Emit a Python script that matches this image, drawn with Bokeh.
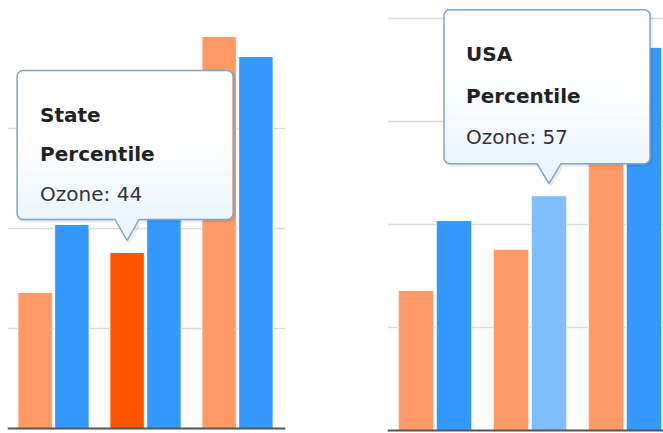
import math
from bokeh.plotting import figure
from bokeh.models import Range1d, Span, Label, Grid, FixedTicker
from bokeh.layouts import row
from bokeh.embed import file_html
from bokeh.resources import INLINE

# ---- data ----
categories = ["PM 2.5", "Ozone", "Diesel PM"]
state_pct = [34, 44, 98]
usa_pct = [51, 57, 93]
left_grid_ticks = [25, 50, 75]
right_grid_ticks = [25, 50, 75, 100]
indicator = "Ozone"

ORANGE = "#FF9966"
ORANGE_HI = "#FF5500"
BLUE = "#3399FF"
BLUE_HI = "#80BFFF"
FONT = "DejaVu Sans"


def rounded_shape(L, T, R, B, r, hw, n=6):
    pts = []

    def arc(cx, cy, a0, a1):
        for k in range(n + 1):
            a = a0 + (a1 - a0) * k / n
            pts.append((cx + r * math.cos(a), cy + r * math.sin(a)))

    arc(L + r, T + r, math.pi, 1.5 * math.pi)
    arc(R - r, T + r, 1.5 * math.pi, 2 * math.pi)
    arc(R - r, B - r, 0.0, 0.5 * math.pi)
    pts.append((hw, B))
    pts.append((0.0, 0.0))
    pts.append((-hw, B))
    arc(L + r, B - r, 0.5 * math.pi, math.pi)
    return pts


def x_extent(L, R, B, r, y):
    inset = 0.0
    if y > B - r:
        d = min(y - (B - r), r)
        inset = r - math.sqrt(max(r * r - d * d, 0.0))
    return L + inset, R - inset


def draw_tooltip(p, tx, ty, sx, sy, L, T, R, B, hw, lines, text_dx, baselines):
    r = 6

    def conv(pts):
        return [tx + dx / sx for dx, _ in pts], [ty - dy / sy for _, dy in pts]

    shape = rounded_shape(L, T, R, B, r, hw)
    # shadow
    sh = [(x + 1.5, y + 1.5) for x, y in shape]
    xs, ys = conv(sh)
    p.patch(xs, ys, fill_color=None, line_color="black", line_alpha=0.08, line_width=3)
    # base fill
    xs, ys = conv(shape)
    p.patch(xs, ys, fill_color="white", line_color=None)
    # gradient strips in lower part of the box
    c0 = (255, 255, 255)
    c1 = (236, 245, 254)
    y_start = T + 0.45 * (B - T)
    nstrip = 14
    for i in range(nstrip):
        ya = y_start + (B - y_start) * i / nstrip
        yb = y_start + (B - y_start) * (i + 1) / nstrip + 0.6
        yb = min(yb, B)
        t = (i + 0.5) / nstrip
        col = "#%02x%02x%02x" % tuple(int(round(c0[k] + (c1[k] - c0[k]) * t)) for k in range(3))
        left, right = [], []
        for k in range(5):
            yy = ya + (yb - ya) * k / 4
            a, b = x_extent(L, R, B, r, yy)
            left.append((a, yy))
            right.append((b, yy))
        poly = left + right[::-1]
        xs, ys = conv(poly)
        p.patch(xs, ys, fill_color=col, line_color=None)
    # pointer fill
    xs, ys = conv([(hw, B - 0.5), (0, 0), (-hw, B - 0.5)])
    cend = "#%02x%02x%02x" % c1
    p.patch(xs, ys, fill_color=cend, line_color=None)
    # outline
    xs, ys = conv(shape)
    p.patch(xs, ys, fill_color=None, line_color="#7FA5CC", line_width=1.5)
    # text
    for (txt, bold), bdy in zip(lines, baselines):
        p.add_layout(Label(x=tx + text_dx / sx, y=ty - bdy / sy, text=txt,
                           text_font=FONT, text_font_size="20px",
                           text_font_style="bold" if bold else "normal",
                           text_color="#222222" if bold else "#333333",
                           text_baseline="alphabetic", text_align="left"))


def make_panel(width, b_left, b_right, xr, yr, ticks, hi_series):
    p = figure(width=width, height=433, output_backend="svg", toolbar_location=None,
               x_range=Range1d(*xr), y_range=Range1d(*yr),
               x_axis_location=None, y_axis_location=None,
               min_border_left=b_left, min_border_right=b_right,
               min_border_top=0, min_border_bottom=0)
    p.outline_line_color = None
    p.background_fill_color = "white"
    p.border_fill_color = "white"
    p.grid.visible = False
    p.add_layout(Grid(dimension=1, ticker=FixedTicker(ticks=ticks),
                      grid_line_color="#DADADA", grid_line_width=1.5), "center")
    hi = categories.index(indicator)
    centers = [i + 0.5 for i in range(len(categories))]
    s_cols = [ORANGE_HI if (hi_series == "state" and i == hi) else ORANGE for i in range(len(categories))]
    u_cols = [BLUE_HI if (hi_series == "usa" and i == hi) else BLUE for i in range(len(categories))]
    p.vbar(x=[c - 0.2 for c in centers], top=state_pct, bottom=0, width=0.375,
           fill_color=s_cols, line_color="white", line_width=1)
    p.vbar(x=[c + 0.2 for c in centers], top=usa_pct, bottom=0, width=0.375,
           fill_color=u_cols, line_color="white", line_width=1)
    p.add_layout(Span(location=0, dimension="width", line_color="#555555", line_width=2))
    return p, centers, hi


# left panel: State percentile tooltip
sxL = 92.0
syL = 4.0
pL, centers, hi = make_panel(330, 7, 45, (0.0, 278 / sxL), (-5 / syL, -5 / syL + 433 / syL),
                             left_grid_ticks, "state")
draw_tooltip(pL, centers[hi] - 0.2, state_pct[hi] + 12 / syL, sxL, syL,
             -110, -170, 106, -21, 12,
             [("State", True), ("Percentile", True), ("%s: %d" % (indicator, state_pct[hi]), False)],
             -87, [-126, -87, -47])

# right panel: USA percentile tooltip
sxR = 95.0
syR = 4.12
pR, centers, hi = make_panel(333, 57, 0, (0.0, 276 / sxR), (-3 / syR, -3 / syR + 433 / syR),
                             right_grid_ticks, "usa")
draw_tooltip(pR, centers[hi] + 0.2, usa_pct[hi] + 12 / syR, sxR, syR,
             -105, -174, 101, -20, 12,
             [("USA", True), ("Percentile", True), ("%s: %d" % (indicator, usa_pct[hi]), False)],
             -83, [-130, -88, -47])

layout = row(pL, pR)
open("out.html", "w").write(file_html(layout, INLINE))
